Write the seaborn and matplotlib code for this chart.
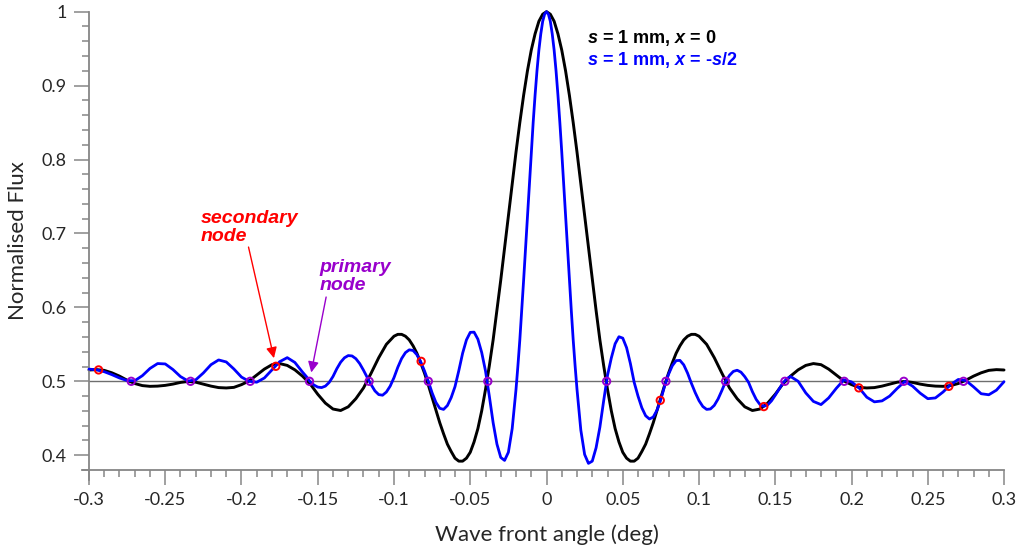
import numpy as np
import seaborn as sns
import matplotlib.pyplot as plt
from matplotlib.ticker import MultipleLocator, FixedLocator, FixedFormatter

# black curve: s = 1 mm, x = 0
# read every 0.005 deg outside |x| < 0.1, every 0.0025 deg inside
black_x = np.round(np.concatenate([np.linspace(-0.3, -0.105, 40),
                                   np.linspace(-0.1, 0.1, 81),
                                   np.linspace(0.105, 0.3, 40)]), 5)
black_outer_left = [0.5153, 0.5158, 0.5148, 0.5115, 0.507, 0.5015, 0.497, 0.4942, 0.4932, 0.4935,
                    0.4945, 0.4962, 0.4985, 0.4998, 0.4988, 0.4962, 0.4935, 0.4915, 0.491, 0.4918,
                    0.4955, 0.5005, 0.5085, 0.5165, 0.5225, 0.524, 0.5215, 0.5155, 0.507, 0.4965,
                    0.4825, 0.4705, 0.4625, 0.4605, 0.4655, 0.4765, 0.491, 0.511, 0.532, 0.550]
black_centre_left = [0.561, 0.5635, 0.5635, 0.561, 0.556, 0.548, 0.538, 0.525, 0.511, 0.495,
                     0.478, 0.461, 0.444, 0.429, 0.415, 0.405, 0.396, 0.392, 0.392, 0.396,
                     0.404, 0.418, 0.436, 0.460, 0.489, 0.521, 0.556, 0.596, 0.637, 0.680,
                     0.724, 0.767, 0.810, 0.850, 0.887, 0.920, 0.948, 0.970, 0.987, 0.9966]
black_centre_right = [1.000, 0.9966, 0.987, 0.970, 0.948, 0.920, 0.887, 0.850, 0.810, 0.767,
                      0.724, 0.680, 0.637, 0.596, 0.556, 0.521, 0.489, 0.460, 0.436, 0.418,
                      0.404, 0.396, 0.392, 0.392, 0.396, 0.405, 0.415, 0.429, 0.444, 0.461,
                      0.478, 0.495, 0.511, 0.525, 0.538, 0.548, 0.556, 0.561, 0.5635, 0.5635,
                      0.561]
black_outer_right = [0.550, 0.532, 0.511, 0.491, 0.4765, 0.4655, 0.4605, 0.4625, 0.4705, 0.4825,
                     0.4965, 0.507, 0.5155, 0.5215, 0.524, 0.5225, 0.5165, 0.5085, 0.5005, 0.4955,
                     0.4918, 0.491, 0.4915, 0.4935, 0.4962, 0.4988, 0.4998, 0.4985, 0.4962, 0.4945,
                     0.4935, 0.4932, 0.4942, 0.497, 0.5015, 0.507, 0.5115, 0.5148, 0.5158, 0.5153]
black_y = black_outer_left + black_centre_left + black_centre_right + black_outer_right

# blue curve: s = 1 mm, x = -s/2
blue_x = np.round(np.concatenate([np.linspace(-0.3, -0.165, 28),
                                  np.linspace(-0.16, -0.0225, 56),
                                  np.linspace(-0.02, 0.02, 33),
                                  np.linspace(0.0225, 0.16, 56),
                                  np.linspace(0.165, 0.3, 28)]), 5)
blue_outer_left = [0.5165, 0.5155, 0.513, 0.509, 0.5045, 0.501, 0.5008, 0.5076, 0.5174, 0.524,
                   0.5235, 0.516, 0.5064, 0.5004, 0.502, 0.5113, 0.5225, 0.5289, 0.5262, 0.5167,
                   0.5057, 0.500, 0.4988, 0.5045, 0.5155, 0.5265, 0.532, 0.5255]
blue_mid_left = [0.5125, 0.5065, 0.4995, 0.4950, 0.4922, 0.4915, 0.4935, 0.4985, 0.5065, 0.5170,
                 0.5258, 0.5318, 0.5348, 0.5343, 0.5306, 0.5240, 0.5150, 0.5050, 0.4955, 0.4870,
                 0.4820, 0.4812, 0.4855, 0.4935, 0.5050, 0.5190, 0.5308, 0.5388, 0.5426, 0.5417,
                 0.5360, 0.5265, 0.5140, 0.5000, 0.4843, 0.4714, 0.4635, 0.4620, 0.4672, 0.4780,
                 0.4928, 0.5145, 0.5380, 0.5560, 0.5662, 0.5665, 0.5570, 0.5390, 0.5140, 0.4800,
                 0.4440, 0.4150, 0.3970, 0.3930, 0.4040, 0.4360]
blue_centre = [0.489, 0.521, 0.556, 0.596, 0.637, 0.680, 0.724, 0.767, 0.810, 0.850,
               0.887, 0.920, 0.948, 0.970, 0.987, 0.9966, 1.000, 0.9966, 0.987, 0.970,
               0.948, 0.920, 0.887, 0.850, 0.810, 0.767, 0.724, 0.680, 0.637, 0.596,
               0.556, 0.521, 0.489]
blue_mid_right = [0.4340, 0.4010, 0.3890, 0.3920, 0.4100, 0.4380, 0.4740, 0.5080, 0.5316, 0.5508,
                  0.5603, 0.5584, 0.5455, 0.5240, 0.4985, 0.4800, 0.4642, 0.4534, 0.4490, 0.4517,
                  0.4611, 0.4758, 0.4939, 0.5094, 0.5211, 0.5280, 0.5283, 0.5222, 0.5110, 0.4973,
                  0.4847, 0.4738, 0.4659, 0.4620, 0.4626, 0.4674, 0.4761, 0.4876, 0.5000, 0.5080,
                  0.5134, 0.5150, 0.5124, 0.5063, 0.4985, 0.4860, 0.4755, 0.4685, 0.4662, 0.4680,
                  0.4735, 0.4812, 0.4895, 0.4975, 0.5035, 0.5065]
blue_outer_right = [0.500, 0.4843, 0.4728, 0.4685, 0.4775, 0.4905, 0.502, 0.4992, 0.491, 0.4785,
                    0.4722, 0.4735, 0.480, 0.4905, 0.4998, 0.4935, 0.484, 0.4765, 0.4775, 0.4855,
                    0.4955, 0.5025, 0.501, 0.4925, 0.4832, 0.4818, 0.488, 0.4995]
blue_y = blue_outer_left + blue_mid_left + blue_centre + blue_mid_right + blue_outer_right

# nodes
primary_x = [-0.2723, -0.2334, -0.1943, -0.1554, -0.1163, -0.0775, -0.0385,
             0.0394, 0.0783, 0.1174, 0.1563, 0.1952, 0.2343, 0.2734]
primary_y = [0.5] * len(primary_x)
secondary_x = [-0.2937, -0.1775, -0.0822, 0.0746, 0.1425, 0.2048, 0.2638]
secondary_y = [0.5154, 0.5203, 0.527, 0.4743, 0.4658, 0.4911, 0.4932]

xticks = [-0.3, -0.25, -0.2, -0.15, -0.1, -0.05, 0, 0.05, 0.1, 0.15, 0.2, 0.25, 0.3]
xtick_labels = ['-0.3', '-0.25', '-0.2', '-0.15', '-0.1', '-0.05', '0',
                '0.05', '0.1', '0.15', '0.2', '0.25', '0.3']
yticks = [0.4, 0.5, 0.6, 0.7, 0.8, 0.9, 1.0]
ytick_labels = ['0.4', '0.5', '0.6', '0.7', '0.8', '0.9', '1']

sns.set_theme(style='ticks')
plt.rcParams['font.family'] = ['Lato', 'DejaVu Sans']
plt.rcParams['mathtext.fontset'] = 'custom'
plt.rcParams['mathtext.bfit'] = 'Liberation Sans:italic:bold'
plt.rcParams['mathtext.rm'] = 'Liberation Sans:bold'

purple = '#9900cc'
grey = '#868686'

fig = plt.figure(figsize=(10.24, 5.54), dpi=100)
ax = fig.add_axes([0.0869, 0.1516, 0.8936, 0.8273])

ax.axhline(0.5, color='#6e6e6e', lw=1.0, zorder=1)
sns.lineplot(x=black_x, y=black_y, color='black', linewidth=2.1, ax=ax, estimator=None,
             sort=False, clip_on=False, zorder=2, solid_joinstyle='round')
sns.lineplot(x=blue_x, y=blue_y, color='#0000ff', linewidth=2.0, ax=ax, estimator=None,
             sort=False, clip_on=False, zorder=3, solid_joinstyle='round')
sns.scatterplot(x=primary_x, y=primary_y, marker='o', s=28, fc='none', ec=purple,
                linewidth=1.4, ax=ax, zorder=4)
sns.scatterplot(x=secondary_x, y=secondary_y, marker='o', s=28, fc='none', ec='red',
                linewidth=1.4, ax=ax, zorder=4)

ax.set_xlim(-0.3, 0.3)
ax.set_ylim(0.38, 1.0)
ax.xaxis.set_major_locator(FixedLocator(xticks))
ax.xaxis.set_major_formatter(FixedFormatter(xtick_labels))
ax.yaxis.set_major_locator(FixedLocator(yticks))
ax.yaxis.set_major_formatter(FixedFormatter(ytick_labels))
ax.xaxis.set_minor_locator(MultipleLocator(0.01))
ax.yaxis.set_minor_locator(MultipleLocator(0.02))
ax.tick_params(which='major', length=11, width=1.1, color=grey, labelsize=13, pad=5)
ax.tick_params(which='minor', length=5, width=1.1, color=grey)

for side in ['top', 'right']:
    ax.spines[side].set_visible(False)
for side in ['left', 'bottom']:
    ax.spines[side].set_color(grey)
    ax.spines[side].set_linewidth(1.3)
ax.spines['bottom'].set_bounds(-0.3046, 0.3)
ax.spines['left'].set_bounds(0.3665, 1.0)

ax.set_xlabel('Wave front angle (deg)', fontsize=16, labelpad=12)
ax.set_ylabel('Normalised Flux', fontsize=16, labelpad=10)

# legend-like labels
ax.text(0.0263, 0.9645, r'$\mathbfit{s}$ = 1 mm, $\mathbfit{x}$ = 0', color='black',
        fontsize=13, fontweight='bold', family='Liberation Sans', ha='left', va='center')
ax.text(0.0263, 0.9347, r'$\mathbfit{s}$ = 1 mm, $\mathbfit{x}$ = -$\mathbfit{s}$/2',
        color='#0000ff', fontsize=13, fontweight='bold', family='Liberation Sans',
        ha='left', va='center')

# annotations
ax.text(-0.2266, 0.7085, 'secondary\nnode', color='red', fontsize=14, fontweight='bold',
        style='italic', family='Liberation Sans', ha='left', va='center', linespacing=1.05)
ax.annotate('', xy=(secondary_x[1], secondary_y[1]), xytext=(-0.1954, 0.6816),
            arrowprops=dict(arrowstyle='-|>', color='red', lw=1.0, mutation_scale=16,
                            shrinkA=0, shrinkB=6))
ax.text(-0.1489, 0.6415, 'primary\nnode', color=purple, fontsize=14, fontweight='bold',
        style='italic', family='Liberation Sans', ha='left', va='center', linespacing=1.05)
ax.annotate('', xy=(primary_x[3], primary_y[3]), xytext=(-0.1445, 0.614),
            arrowprops=dict(arrowstyle='-|>', color=purple, lw=1.0, mutation_scale=16,
                            shrinkA=0, shrinkB=6.5))

plt.savefig('out.png', dpi=100)
